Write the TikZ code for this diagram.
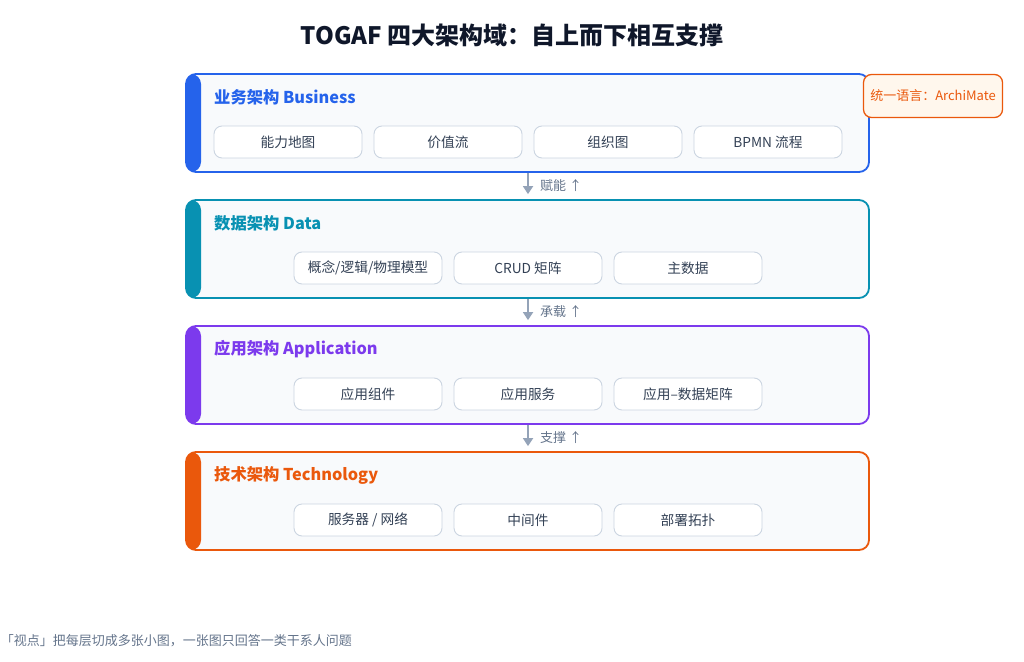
\documentclass[tikz,border=0pt]{standalone}
\usepackage{fontspec}
\setmainfont{Noto Sans CJK SC}
\usetikzlibrary{arrows.meta}
\definecolor{bizc}{HTML}{2563EB}
\definecolor{datac}{HTML}{0891B2}
\definecolor{appc}{HTML}{7C3AED}
\definecolor{techc}{HTML}{EA580C}
\definecolor{layerbg}{HTML}{F8FAFC}
\definecolor{itemborder}{HTML}{CBD5E1}
\definecolor{itemtext}{HTML}{334155}
\definecolor{arrowc}{HTML}{94A3B8}
\definecolor{labelc}{HTML}{64748B}
\definecolor{titlec}{HTML}{0F172A}
\definecolor{notebg}{HTML}{FFF7ED}
\tikzset{
  layerbox/.style={draw=#1, line width=1.8pt, fill=layerbg, rounded corners=10pt,
    minimum width=683pt, minimum height=98pt, inner sep=0pt,
    path picture={\fill[#1] (path picture bounding box.north west) rectangle ([xshift=15pt]path picture bounding box.south west);}},
  layertitle/.style={text=#1, font=\fontsize{16.3}{19}\selectfont\bfseries, anchor=west, inner sep=0pt},
  item/.style={draw=itemborder, line width=0.9pt, fill=white, rounded corners=8pt,
    minimum width=148pt, minimum height=32pt, inner sep=0pt, text=itemtext,
    font=\fontsize{13.7}{16}\selectfont},
  flow/.style={draw=arrowc, line width=1.8pt, -{Triangle[width=10pt,length=8pt]}},
  flowlabel/.style={text=labelc, font=\fontsize{13}{15}\selectfont, anchor=west, inner sep=0pt},
}
\begin{document}
\begin{tikzpicture}[x=1pt,y=-1pt]
\useasboundingbox (0,0) rectangle (1024,661);
\clip (0,0) rectangle (1024,661);
\node[text=titlec, font=\fontsize{24}{28}\selectfont\bfseries] (title) at (512,35) {TOGAF 四大架构域：自上而下相互支撑};

% layers
\node[layerbox=bizc] (L1) at (527.5,123) {};
\node[layerbox=datac] (L2) at (527.5,249) {};
\node[layerbox=appc] (L3) at (527.5,375) {};
\node[layerbox=techc] (L4) at (527.5,501) {};

\node[layertitle=bizc] (T1) at (214,97) {业务架构 Business};
\node[layertitle=datac] (T2) at (214,223) {数据架构 Data};
\node[layertitle=appc] (T3) at (214,349) {应用架构 Application};
\node[layertitle=techc] (T4) at (214,475) {技术架构 Technology};

% items
\node[item] (b1) at (288,142) {能力地图};
\node[item] (b2) at (448,142) {价值流};
\node[item] (b3) at (608,142) {组织图};
\node[item] (b4) at (768,142) {BPMN 流程};

\node[item] (d1) at (368,268) {概念/逻辑/物理模型};
\node[item] (d2) at (528,268) {CRUD 矩阵};
\node[item] (d3) at (688,268) {主数据};

\node[item] (a1) at (368,394) {应用组件};
\node[item] (a2) at (528,394) {应用服务};
\node[item] (a3) at (688,394) {应用–数据矩阵};

\node[item] (t1) at (368,520) {服务器 / 网络};
\node[item] (t2) at (528,520) {中间件};
\node[item] (t3) at (688,520) {部署拓扑};

% arrows
\draw[flow, shorten >=5pt] (L1.south -| 528,0) -- (L2.north -| 528,0);
\draw[flow, shorten >=5pt] (L2.south -| 528,0) -- (L3.north -| 528,0);
\draw[flow, shorten >=5pt] (L3.south -| 528,0) -- (L4.north -| 528,0);
\node[flowlabel] (f1) at (540,186) {赋能 ↑};
\node[flowlabel] (f2) at (540,312) {承载 ↑};
\node[flowlabel] (f3) at (540,438) {支撑 ↑};

% note
\node[draw=techc, line width=1.3pt, fill=notebg, rounded corners=8pt, minimum width=139pt, minimum height=43pt, inner sep=0pt, text=techc, font=\fontsize{13}{15}\selectfont] (note) at (933,96) {统一语言：ArchiMate};

% footer
\node[text=labelc, font=\fontsize{13}{15}\selectfont, anchor=east, inner sep=0pt] (foot) at (352,641) {用「视点」把每层切成多张小图，一张图只回答一类干系人问题};
\end{tikzpicture}
\end{document}
